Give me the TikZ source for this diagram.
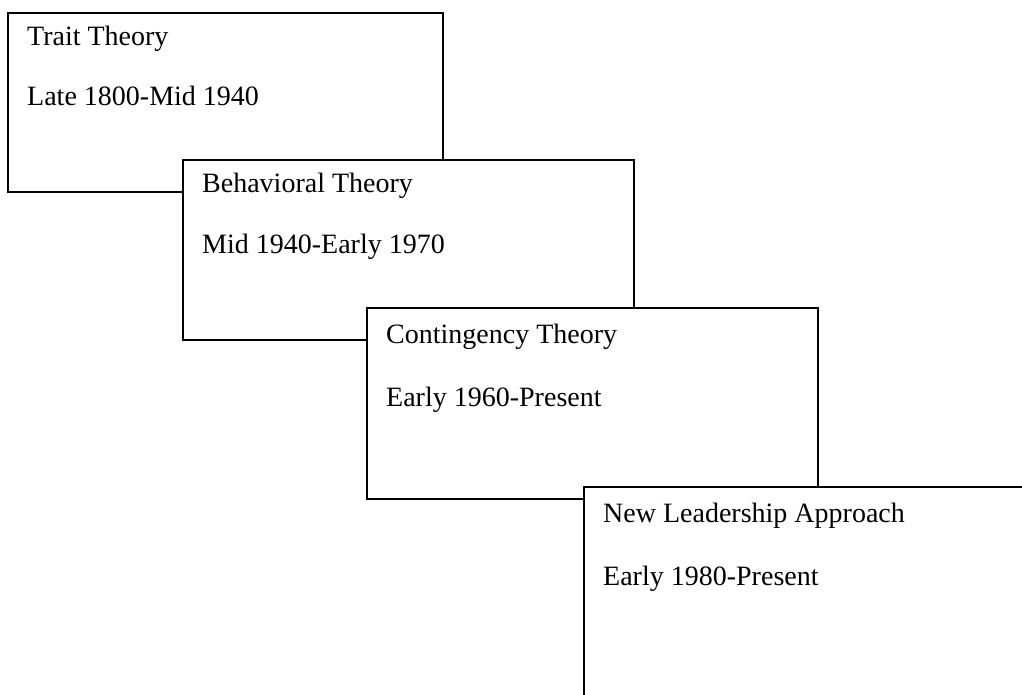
\documentclass[tikz,border=0pt]{standalone}
\usepackage{fontspec}
\setmainfont{Liberation Serif}
\begin{document}
\begin{tikzpicture}[x=1pt,y=-1pt,
  box/.style={draw=black, fill=white, line width=1.6pt, inner sep=0pt, outer sep=0pt, anchor=north west},
  lbl/.style={anchor=base west, inner sep=0pt, font=\fontsize{28}{34}\selectfont}]
\useasboundingbox (0,0) rectangle (1022,695);
\clip (0,0) rectangle (1022,695);
% Box 1
\node[box, minimum width=435pt, minimum height=179pt] (b1) at (8,13) {};
\node[lbl] (b1a) at ([shift={(19,33)}]b1.north west) {Trait Theory};
\node[lbl] (b1b) at ([shift={(19,93)}]b1.north west) {Late 1800-Mid 1940};
% Box 2
\node[box, minimum width=451pt, minimum height=180pt] (b2) at (183,160) {};
\node[lbl] (b2a) at ([shift={(19,33)}]b2.north west) {Behavioral Theory};
\node[lbl] (b2b) at ([shift={(19,93)}]b2.north west) {Mid 1940-Early 1970};
% Box 3
\node[box, minimum width=451pt, minimum height=191pt] (b3) at (367,308) {};
\node[lbl] (b3a) at ([shift={(19,35)}]b3.north west) {Contingency Theory};
\node[lbl] (b3b) at ([shift={(19,98)}]b3.north west) {Early 1960-Present};
% Box 4
\node[box, minimum width=500pt, minimum height=300pt] (b4) at (584,487) {};
\node[lbl] (b4a) at ([shift={(19,35)}]b4.north west) {New Leadership Approach};
\node[lbl] (b4b) at ([shift={(19,98)}]b4.north west) {Early 1980-Present};
\end{tikzpicture}
\end{document}
